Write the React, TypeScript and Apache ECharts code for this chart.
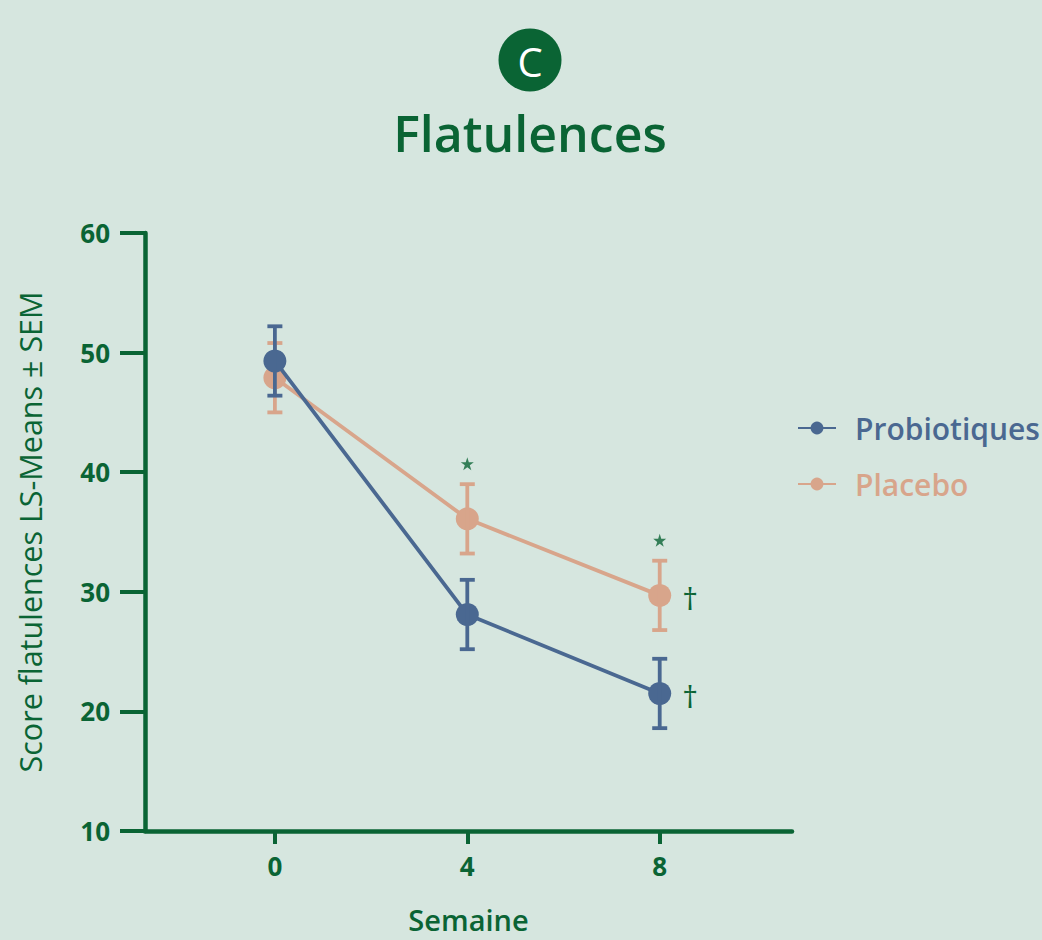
import React, { useEffect, useRef } from "react";
import * as echarts from "echarts";

const weeks = [0, 4, 8];
const probioticMeans = [49.3, 28.1, 21.5];
const probioticSem = [2.9, 2.9, 2.9];
const placeboMeans = [47.9, 36.1, 29.7];
const placeboSem = [2.9, 2.9, 2.9];
const starWeeks = [4, 8];
const starValues = [40.7, 34.3];
const xTickLabels = [0, 4, 8];

const GREEN = "#0a6434";
const BLUE = "#4a6891";
const SALMON = "#d8a58b";
const BG = "#d6e6df";
const FONT = "'Open Sans', 'Noto Sans', sans-serif";

const STAR =
  "path://M50,0 L61.8,36.2 L100,36.2 L69.1,58.6 L80.9,95.1 L50,72.7 L19.1,95.1 L30.9,58.6 L0,36.2 L38.2,36.2 Z";

function errData(means: number[], sem: number[]) {
  return weeks.map((w, i) => [w, means[i], means[i] - sem[i], means[i] + sem[i]]);
}

function makeErr(name: string, means: number[], sem: number[], color: string, z: number) {
  return {
    type: "custom",
    name: name + "-err",
    z,
    silent: true,
    data: errData(means, sem),
    renderItem: (params: any, api: any) => {
      const x = api.value(0);
      const lo = api.coord([x, api.value(2)]);
      const hi = api.coord([x, api.value(3)]);
      const cap = 7.5;
      const style = { stroke: color, lineWidth: 3.8 };
      return {
        type: "group",
        children: [
          { type: "line", shape: { x1: hi[0], y1: hi[1], x2: lo[0], y2: lo[1] }, style },
          { type: "line", shape: { x1: hi[0] - cap, y1: hi[1], x2: hi[0] + cap, y2: hi[1] }, style },
          { type: "line", shape: { x1: lo[0] - cap, y1: lo[1], x2: lo[0] + cap, y2: lo[1] }, style },
        ],
      };
    },
  };
}

function makeLine(name: string, means: number[], color: string, z: number) {
  return {
    type: "line",
    name,
    z,
    symbol: "circle",
    symbolSize: 23,
    lineStyle: { color, width: 3.8 },
    itemStyle: { color },
    data: weeks.map((w, i) => {
      const item: any = { value: [w, means[i]] };
      if (i === weeks.length - 1) {
        item.label = {
          show: true,
          position: "right",
          distance: 11,
          formatter: "\u2020",
          color: GREEN,
          fontSize: 31,
          fontFamily: FONT,
          offset: [0, 3],
        };
      }
      return item;
    }),
  };
}

export default function App() {
  const ref = useRef<HTMLDivElement>(null);
  useEffect(() => {
    if (!ref.current) return;
    const chart = echarts.init(ref.current, null, { renderer: "svg" });
    const axisLabelStyle = { color: GREEN, fontSize: 26, fontWeight: "bold", fontFamily: FONT };
    chart.setOption({
      animation: false,
      backgroundColor: BG,
      textStyle: { fontFamily: FONT },
      grid: {
        left: 145,
        right: 250,
        top: 233,
        bottom: 109,
        containLabel: false,
        outerBoundsMode: "none",
      },
      legend: {
        orient: "vertical",
        left: 797,
        top: 413,
        padding: 0,
        itemWidth: 38,
        itemHeight: 16,
        itemGap: 26,
        textStyle: { fontSize: 30, fontWeight: 600, fontFamily: FONT, padding: [0, 0, 0, 14] },
        data: [
          { name: "Probiotiques", textStyle: { color: BLUE } },
          { name: "Placebo", textStyle: { color: SALMON } },
        ],
      },
      xAxis: {
        type: "value",
        min: -2.7,
        max: 10.75,
        name: "Semaine",
        nameLocation: "middle",
        nameGap: 74,
        nameTextStyle: { color: GREEN, fontSize: 29, fontWeight: 600, fontFamily: FONT },
        axisLine: { show: true, onZero: false, lineStyle: { color: GREEN, width: 4.5 } },
        axisTick: { show: true, length: 13, customValues: xTickLabels, lineStyle: { color: GREEN, width: 4 } },
        axisLabel: { ...axisLabelStyle, margin: 22, customValues: xTickLabels },
        splitLine: { show: false },
      },
      yAxis: {
        type: "value",
        min: 10,
        max: 60,
        interval: 10,
        name: "Score flatulences LS-Means \u00b1 SEM",
        nameLocation: "middle",
        nameGap: 100,
        nameTextStyle: { color: GREEN, fontSize: 30.5, fontWeight: 500, fontFamily: FONT },
        axisLine: { show: true, onZero: false, lineStyle: { color: GREEN, width: 4.5 } },
        axisTick: { show: true, length: 25, lineStyle: { color: GREEN, width: 4 } },
        axisLabel: { ...axisLabelStyle, margin: 35 },
        splitLine: { show: false },
      },
      graphic: [
        {
          type: "circle",
          shape: { cx: 530, cy: 60, r: 31.5 },
          style: { fill: GREEN },
        },
        {
          type: "text",
          x: 530,
          y: 61,
          style: {
            text: "C",
            fill: "#ffffff",
            fontSize: 40,
            fontWeight: 500,
            fontFamily: FONT,
            align: "center",
            verticalAlign: "middle",
          },
        },
        {
          type: "text",
          x: 530,
          y: 133,
          style: {
            text: "Flatulences",
            fill: GREEN,
            fontSize: 50,
            fontWeight: 600,
            fontFamily: FONT,
            align: "center",
            verticalAlign: "middle",
          },
        },
      ],
      series: [
        makeLine("Placebo", placeboMeans, SALMON, 2),
        makeErr("Placebo", placeboMeans, placeboSem, SALMON, 3),
        makeLine("Probiotiques", probioticMeans, BLUE, 4),
        makeErr("Probiotiques", probioticMeans, probioticSem, BLUE, 5),
        {
          type: "scatter",
          name: "stars",
          z: 6,
          symbol: STAR,
          symbolSize: 13,
          itemStyle: { color: GREEN },
          silent: true,
          data: starWeeks.map((w, i) => [w, starValues[i]]),
        },
      ],
    });
    return () => chart.dispose();
  }, []);
  return (
    <div
      ref={ref}
      style={{ position: "fixed", left: 0, top: 0, width: 1042, height: 940 }}
    />
  );
}
